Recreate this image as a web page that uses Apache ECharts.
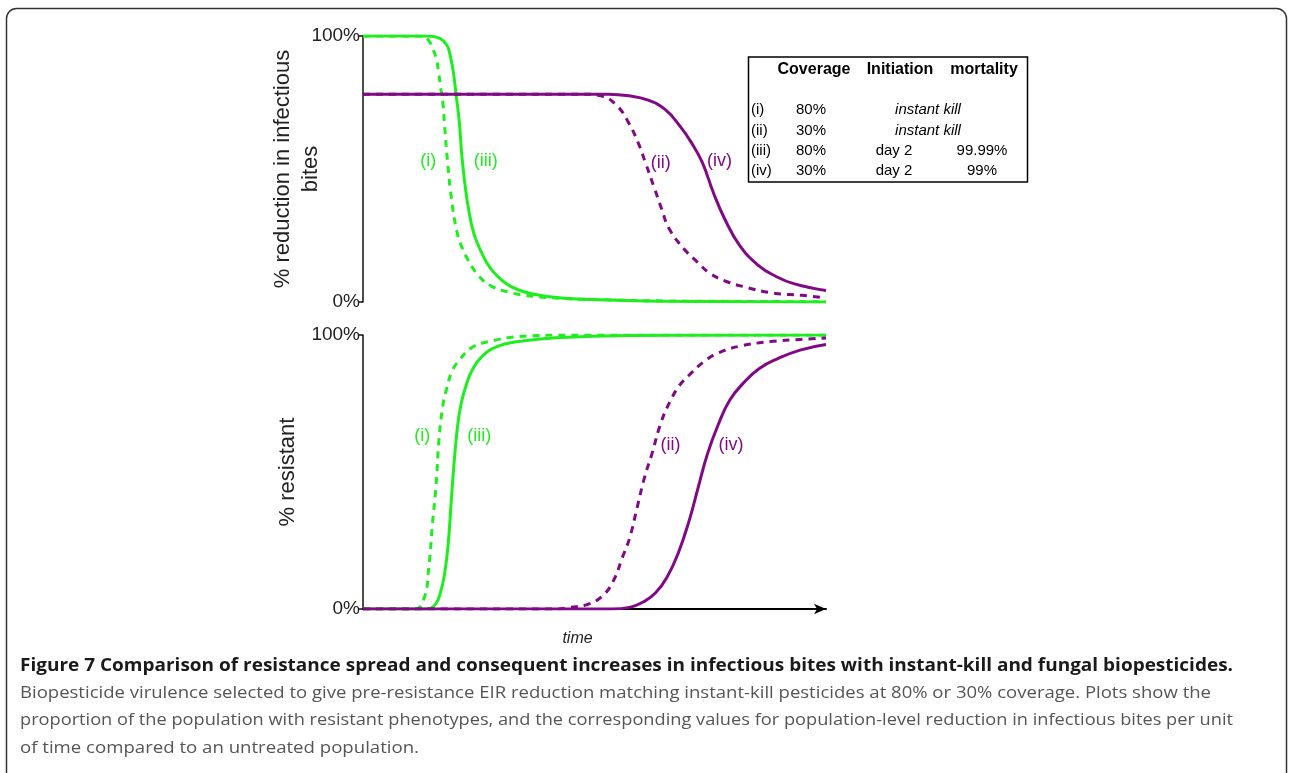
<!DOCTYPE html>
<html>
<head>
<meta charset="utf-8">
<script src="https://cdn.jsdelivr.net/npm/echarts@6/dist/echarts.min.js"></script>
<style>
html,body{margin:0;padding:0;background:#fff;}
#chart{width:1289px;height:773px;}
</style>
</head>
<body>
<div id="chart"></div>
<script>
// ---- Data (time in arbitrary units 0..100, values in %) ----
// Top panel: % reduction in infectious bites
const topI   = [[0,100],[12.5,100],[14.1,98.5],[15.7,92.2],[16.3,86.6],[16.8,80.3],[17.3,74],[17.6,67],[18.3,52],[19.1,39],[20.3,26.3],[21.5,20],[22.7,15.8],[25.1,9.6],[27.9,5.8],[31.5,3.7],[35,2.5],[41.4,1.5],[50,0.9],[65,0.4],[100,0.1]];
const topIII = [[0,100],[14,100],[16.6,99.1],[18.1,96.6],[18.8,92.9],[19.5,86.6],[20.1,78],[20.8,67.8],[21.3,56],[21.9,46],[22.7,36],[23.9,26],[25.5,19],[27.5,12.7],[30.3,7.7],[33.5,4.6],[39.8,2.1],[49.4,0.9],[65.3,0.25],[100,0]];
const topII  = [[0,78.1],[47.8,78.1],[51.8,77.3],[55,73.5],[57.4,67.3],[59.4,60],[61,52.4],[63,42.5],[64.5,35],[66.1,27.6],[69.3,20],[72.1,15.2],[74.9,10.8],[78.5,7.7],[82.1,5.8],[88.4,3.4],[94.8,2.5],[100,1.5]];
const topIV  = [[0,78.1],[53,78.1],[57.4,77.5],[61.4,76],[65.3,72.3],[68.5,66],[70.9,60],[73.3,52.4],[75.7,41],[78.1,31.3],[81.3,21.4],[85.3,13.9],[89.2,9.6],[93.2,6.8],[100,4.3]];
// Bottom panel: % resistant
const botI   = [[0,0],[11.2,0],[13.2,4],[14.2,15],[15,31],[15.8,45.6],[16.4,61.5],[17.2,73.7],[18,80],[19.2,86.6],[20.8,90.8],[23.6,95.5],[27.2,97.6],[33.6,99.4],[45,100],[100,100]];
const botIII = [[0,0],[13.6,0],[15.6,1.6],[16.8,6.5],[17.6,12.6],[18.4,23.6],[19,38],[19.6,51.7],[20.4,66.4],[21.2,75],[22.4,82.3],[23.6,87.2],[25.6,92],[28.8,95.7],[33.6,97.6],[41.6,99],[57.6,99.8],[100,100]];
const botII  = [[0,0],[41.6,0],[44.8,0.6],[48.4,1.6],[51.6,4.6],[54,10],[56,18.7],[57.6,26],[59.2,37],[60.8,48],[62.4,56.6],[64.4,68.2],[66.4,76],[68.4,81.7],[70.4,85.3],[73.6,90.2],[76.8,93.5],[81.6,96],[88,97.6],[94.4,98.4],[100,98.9]];
const botIV  = [[0,0],[53.6,0],[57.6,0.6],[60.8,2.8],[63.2,5.9],[65.6,11.4],[68,20],[70.4,32],[72.4,44.4],[74.4,56.6],[76.8,67.6],[79.2,76.2],[82.4,82.9],[85.6,87.8],[89.6,91.4],[94.4,94.5],[100,96.5]];
const yTickLabels = ['0%','100%'];
// Table
const tableHeader = ['Coverage','Initiation','mortality'];
const tableIds = ['(i)','(ii)','(iii)','(iv)'];
const tableCoverage = ['80%','30%','80%','30%'];
const tableInitiation = ['instant kill','instant kill','day 2','day 2'];
const tableMortality = ['','','99.99%','99%'];
const captionTitle = 'Figure 7 Comparison of resistance spread and consequent increases in infectious bites with instant-kill and fungal biopesticides.';
const captionBody = [
  'Biopesticide virulence selected to give pre-resistance EIR reduction matching instant-kill pesticides at 80% or 30% coverage. Plots show the',
  'proportion of the population with resistant phenotypes, and the corresponding values for population-level reduction in infectious bites per unit',
  'of time compared to an untreated population.'
];

const GREEN = '#1eee1e';
const PURPLE = '#800a85';
const FONT = '"Liberation Sans", Arial, Helvetica, sans-serif';

const chart = echarts.init(document.getElementById('chart'), null, {renderer:'canvas'});

function yAxis(gridIndex, name, gap){
  return {
    gridIndex, type:'value', min:0, max:100, interval:100,
    axisLine:{show:true, lineStyle:{color:'#111', width:1.5}},
    axisTick:{show:true, length:5, lineStyle:{color:'#111', width:1.5}},
    axisLabel:{color:'#222', fontSize:19, fontFamily:FONT, margin:3,
      formatter: v => yTickLabels[v === 0 ? 0 : 1]},
    splitLine:{show:false},
    name, nameLocation:'middle', nameRotate:90, nameGap:gap, nameMoveOverlap:false,
    nameTextStyle:{color:'#222', fontSize:22, fontFamily:FONT, lineHeight:28}
  };
}

function line(name, data, xi, color, dashed, labels){
  const s = {
    name, type:'line', xAxisIndex:xi, yAxisIndex:xi, data,
    showSymbol:false, smooth:0.45,
    lineStyle:{color, width:3, type: dashed ? [7,6] : 'solid'},
    z: color === PURPLE ? 3 : 2, silent:true
  };
  if (labels) {
    s.markPoint = {
      symbol:'circle', symbolSize:0, silent:true,
      label:{show:true, position:'inside', color, fontSize:18, fontFamily:FONT,
        formatter: p => p.name},
      data: labels
    };
  }
  return s;
}

// caption fitting helper (horizontal scaling only)
const mctx = document.createElement('canvas').getContext('2d');
function fitScale(text, font, width){ mctx.font = font; return width / mctx.measureText(text).width; }
const capFontB = 'bold 18px "Open Sans", sans-serif';
const capFont = '17px "Open Sans", sans-serif';
const capWidths = [1213, 1191, 1213, 399];

const graphics = [
  {type:'rect', shape:{x:6.5, y:8.5, width:1280, height:775, r:10}, style:{fill:'none', stroke:'#333', lineWidth:1.5}, z:0},
  {type:'rect', shape:{x:748.5, y:57, width:279, height:125}, style:{fill:'#fff', stroke:'#000', lineWidth:1.5}, z:10},
];
const headerX = [814, 900, 984];
tableHeader.forEach((t,i)=>graphics.push({type:'text', x:headerX[i], y:70, z:11,
  style:{text:t, font:'bold 16px '+FONT, fill:'#000', align:'center', verticalAlign:'middle'}}));
const rowY = [110, 131, 151, 171];
tableIds.forEach((t,i)=>{
  graphics.push({type:'text', x:751, y:rowY[i], z:11, style:{text:t, font:'15px '+FONT, fill:'#000', align:'left', verticalAlign:'middle'}});
  graphics.push({type:'text', x:811, y:rowY[i], z:11, style:{text:tableCoverage[i], font:'15px '+FONT, fill:'#000', align:'center', verticalAlign:'middle'}});
  const ik = tableMortality[i] === '';
  graphics.push({type:'text', x: ik ? 928 : 894, y:rowY[i], z:11, style:{text:tableInitiation[i], font:(ik?'italic ':'')+'15px '+FONT, fill:'#000', align:'center', verticalAlign:'middle'}});
  if (!ik) graphics.push({type:'text', x:982, y:rowY[i], z:11, style:{text:tableMortality[i], font:'15px '+FONT, fill:'#000', align:'center', verticalAlign:'middle'}});
});
graphics.push({type:'text', x:20, y:666, z:11, scaleX: fitScale(captionTitle, capFontB, capWidths[0]),
  style:{text:captionTitle, font:capFontB, fill:'#1a1a1a', align:'left', verticalAlign:'middle'}});
captionBody.forEach((t,i)=>graphics.push({type:'text', x:20, y:693 + i*27.5, z:11, scaleX: fitScale(t, capFont, capWidths[i+1]),
  style:{text:t, font:capFont, fill:'#555', align:'left', verticalAlign:'middle'}}));

const option = {
  animation:false,
  backgroundColor:'#fff',
  grid:[
    {left:363, top:36, width:463, height:266},
    {left:363, top:335, width:463, height:274}
  ],
  xAxis:[
    {gridIndex:0, type:'value', min:0, max:100, show:false},
    {gridIndex:1, type:'value', min:0, max:100,
      axisLine:{show:true, onZero:false, symbol:['none','arrow'], symbolSize:[8,12], symbolOffset:[0,0], lineStyle:{color:'#000', width:2}},
      axisTick:{show:false}, axisLabel:{show:false}, splitLine:{show:false},
      name:'time', nameLocation:'middle', nameGap:22, nameMoveOverlap:false,
      nameTextStyle:{color:'#222', fontSize:16, fontStyle:'italic', fontFamily:FONT, padding:[0,34,0,0]}}
  ],
  yAxis:[
    yAxis(0, '% reduction in infectious\nbites', 38),
    yAxis(1, '% resistant', 61)
  ],
  series:[
    line('top (iii)', topIII, 0, GREEN, false, [{name:'(iii)', coord:[26.5,53]}]),
    line('top (i)', topI, 0, GREEN, true, [{name:'(i)', coord:[14.1,53]}]),
    line('top (iv)', topIV, 0, PURPLE, false, [{name:'(iv)', coord:[77,53]}]),
    line('top (ii)', topII, 0, PURPLE, true, [{name:'(ii)', coord:[64.3,52.2]}]),
    line('bot (iii)', botIII, 1, GREEN, false, [{name:'(iii)', coord:[25.1,63]}]),
    line('bot (i)', botI, 1, GREEN, true, [{name:'(i)', coord:[12.8,63]}]),
    line('bot (iv)', botIV, 1, PURPLE, false, [{name:'(iv)', coord:[79.5,60]}]),
    line('bot (ii)', botII, 1, PURPLE, true, [{name:'(ii)', coord:[66.4,60]}])
  ],
  graphic: graphics
};
chart.setOption(option);
</script>
</body>
</html>
